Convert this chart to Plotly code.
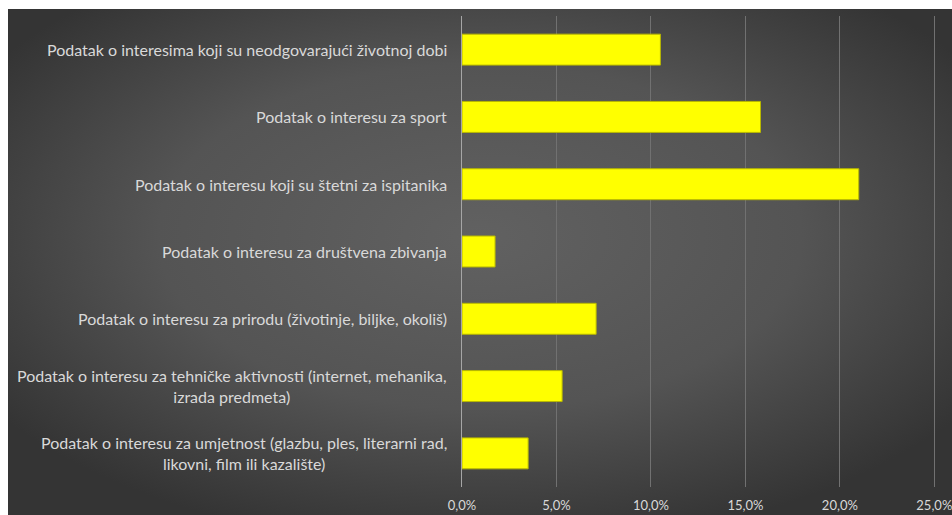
import base64
import plotly.graph_objects as go

categories = [
    "Podatak o interesima koji su neodgovarajući životnoj dobi",
    "Podatak o interesu za sport",
    "Podatak o interesu koji su štetni za ispitanika",
    "Podatak o interesu za društvena zbivanja",
    "Podatak o interesu za prirodu (životinje, biljke, okoliš)",
    "Podatak o interesu za tehničke aktivnosti (internet, mehanika,<br>izrada predmeta)",
    "Podatak o interesu za umjetnost (glazbu, ples, literarni rad,<br>likovni, film ili kazalište)",
]
values = [0.105, 0.158, 0.210, 0.0175, 0.071, 0.053, 0.035]
tick_values = [0, 0.05, 0.10, 0.15, 0.20, 0.25]

W, H = 952, 515
L, R, T, B = 462, 12, 16, 28
pw, ph = W - L - R, H - T - B

bg_w, bg_h = 944, 506
svg = (
    f"<svg xmlns='http://www.w3.org/2000/svg' width='{bg_w}' height='{bg_h}' "
    f"viewBox='0 0 {bg_w} {bg_h}' preserveAspectRatio='none'>"
    "<defs><radialGradient id='g' cx='0.5' cy='0.45' r='0.62'>"
    "<stop offset='0' stop-color='#616161'/>"
    "<stop offset='0.55' stop-color='#545454'/>"
    "<stop offset='1' stop-color='#343434'/>"
    "</radialGradient></defs>"
    f"<rect width='{bg_w}' height='{bg_h}' fill='url(#g)'/></svg>"
)
src = "data:image/svg+xml;base64," + base64.b64encode(svg.encode()).decode()

fig = go.Figure()
fig.add_trace(go.Bar(
    y=categories, x=values, orientation="h",
    marker=dict(color="#ffff00", line=dict(color="#b8b800", width=1)),
    width=0.46, hoverinfo="skip",
))

annotations = []
for c in categories:
    annotations.append(dict(
        xref="paper", yref="y", x=-(L - 449) / pw, y=c, text=c,
        xanchor="right", yanchor="middle", align="center", showarrow=False,
        font=dict(family="Lato", size=16, color="#d9d9d9"),
    ))

fig.update_layout(
    width=W, height=H,
    margin=dict(l=L, r=R, t=T, b=B, pad=0),
    paper_bgcolor="#ffffff",
    plot_bgcolor="rgba(0,0,0,0)",
    separators=",.",
    showlegend=False,
    annotations=annotations,
    images=[dict(
        source=src, xref="paper", yref="paper",
        x=(8 - L) / pw, y=1 + (T - 9) / ph,
        sizex=bg_w / pw, sizey=bg_h / ph,
        xanchor="left", yanchor="top", sizing="stretch", layer="below",
    )],
    xaxis=dict(
        range=[0, 0.253], tickvals=tick_values, tickformat=".1%",
        showgrid=True, gridcolor="#717171", gridwidth=1,
        zeroline=False, showline=False,
        ticklabelstandoff=9, ticklabeloverflow="allow",
        tickfont=dict(family="Lato", size=13, color="#d9d9d9"),
        fixedrange=True, automargin=False,
    ),
    yaxis=dict(
        autorange="reversed", showticklabels=False, showgrid=False,
        zeroline=False, showline=True, linecolor="#a6a6a6", linewidth=1,
        fixedrange=True, automargin=False,
    ),
)

fig.write_html(
    "out.html",
    config={"displayModeBar": False, "staticPlot": True},
    post_script="document.body.style.margin='0';document.body.style.overflow='hidden';",
)
